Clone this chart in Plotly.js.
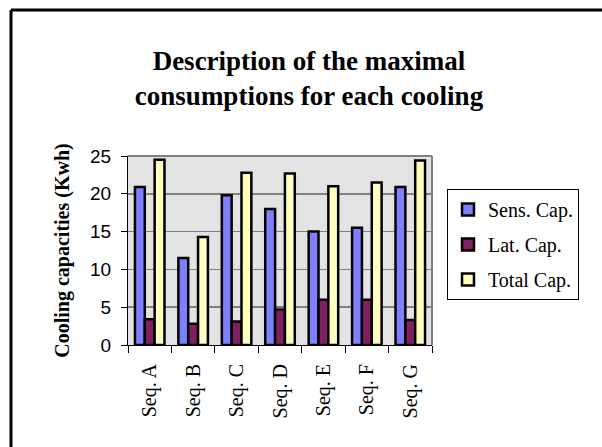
<!DOCTYPE html>
<html>
<head>
<meta charset="utf-8">
<script src="https://cdn.plot.ly/plotly-3.0.1.min.js"></script>
<style>html,body{margin:0;padding:0;background:#fff;}#chart{width:602px;height:447px;}</style>
</head>
<body>
<div id="chart"></div>
<script>
var categories = ['Seq. A','Seq. B','Seq. C','Seq. D','Seq. E','Seq. F','Seq. G'];
var sensCap  = [20.9, 11.5, 19.8, 18.0, 15.0, 15.5, 20.9];
var latCap   = [3.4, 2.8, 3.1, 4.7, 6.0, 6.0, 3.3];
var totalCap = [24.5, 14.3, 22.8, 22.7, 21.0, 21.5, 24.4];
var seriesNames = ['Sens. Cap.', 'Lat. Cap.', 'Total Cap.'];
var seriesColors = ['#8080ff', '#802060', '#ffffc0'];
var seriesValues = [sensCap, latCap, totalCap];

var serif = '"Liberation Serif", "Times New Roman", serif';
var sans = '"Liberation Sans", Arial, sans-serif';

var traces = seriesValues.map(function(vals, i){
  return {
    type: 'bar', x: categories, y: vals, name: seriesNames[i],
    legendgroup: 'g' + i,
    marker: {color: seriesColors[i], line: {color: '#000', width: 2.5}}
  };
});

var W = 602, H = 447, L = 128, R = 170, T = 156, B = 102;
var pw = W - L - R, ph = H - T - B;
function px(x){ return (x - L) / pw; }
function py(y){ return (H - B - y) / ph; }

var layout = {
  width: W, height: H,
  margin: {l: L, r: R, t: T, b: B, pad: 0},
  paper_bgcolor: '#fff',
  plot_bgcolor: '#e3e3e3',
  barmode: 'group', bargap: 0.32, bargroupgap: 0,
  showlegend: true,
  title: {
    text: '<b>Description of the maximal<br>consumptions for each cooling</b>',
    font: {family: serif, size: 27, color: '#000'},
    x: 309 / W, xanchor: 'center', y: 1 - 70 / H, yanchor: 'top'
  },
  xaxis: {
    type: 'category', tickangle: -90,
    tickfont: {family: serif, size: 20, color: '#000'},
    ticks: 'outside', tickson: 'boundaries', ticklen: 7, tickcolor: '#000',
    ticklabelstandoff: 10,
    showline: true, linecolor: '#000', linewidth: 1,
    showgrid: false, zeroline: false, automargin: false
  },
  yaxis: {
    range: [0, 25], dtick: 5, tick0: 0,
    tickfont: {family: sans, size: 19, color: '#000'},
    ticks: 'outside', ticklen: 6, tickcolor: '#000',
    ticklabelstandoff: 6,
    showline: true, linecolor: '#000', linewidth: 1,
    showgrid: true, gridcolor: '#808080', gridwidth: 1.5,
    zeroline: false, automargin: true,
    title: {text: '<b>Cooling capacities (Kwh)</b>', standoff: 15, font: {family: serif, size: 20, color: '#000'}}
  },
  legend: {
    x: px(447), xanchor: 'left', y: py(189), yanchor: 'top',
    bgcolor: '#fff', bordercolor: '#000', borderwidth: 1,
    font: {family: serif, size: 20, color: '#000'},
    traceorder: 'grouped', tracegroupgap: 6
  },
  shapes: [
    {type: 'line', xref: 'paper', yref: 'paper', x0: 0, x1: 1, y0: 1, y1: 1, line: {color: '#808080', width: 2}},
    {type: 'line', xref: 'paper', yref: 'paper', x0: 1, x1: 1, y0: 0, y1: 1, line: {color: '#808080', width: 2}},
    {type: 'line', xref: 'paper', yref: 'paper', x0: px(11), x1: px(610), y0: py(10), y1: py(10), line: {color: '#000', width: 3}},
    {type: 'line', xref: 'paper', yref: 'paper', x0: px(11), x1: px(11), y0: py(10), y1: py(460), line: {color: '#000', width: 3}}
  ]
};

Plotly.newPlot('chart', traces, layout, {displayModeBar: false, staticPlot: true});
</script>
</body>
</html>
